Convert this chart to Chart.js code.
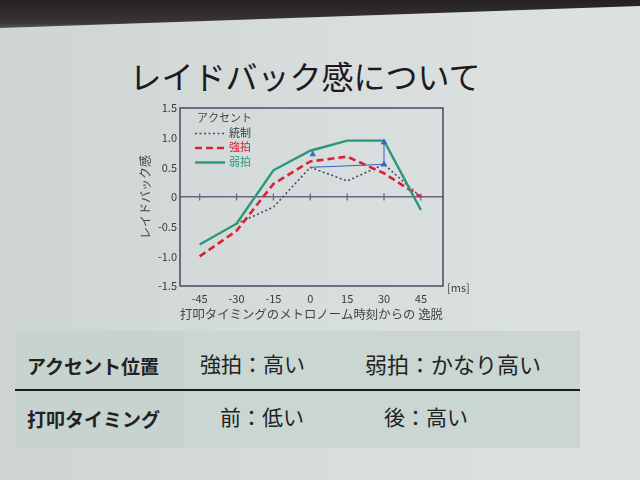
<!DOCTYPE html>
<html>
<head>
<meta charset="utf-8">
<script src="https://cdn.jsdelivr.net/npm/chart.js@4.4.0/dist/chart.umd.min.js"></script>
<style>
html, body { margin: 0; padding: 0; }
body {
    width: 640px; height: 480px; overflow: hidden; position: relative;
    background: linear-gradient(90deg, #cdd4d3 0%, #d8dedd 55%, #dde2e1 100%);
    font-family: "Noto Sans CJK JP", sans-serif; color: #222;
}
#top {
    position: absolute; left: 0; top: 0; width: 640px; height: 32px;
    background: linear-gradient(180deg, #231f22 0%, #3a3538 70%, #6c6a6b 100%);
    clip-path: polygon(0 0, 100% 0, 100% 6px, 0 28px);
}
#title {
    position: absolute; left: 0; width: 610px; top: 52px;
    text-align: center; font-size: 32px; color: #1e1a1c;
}
#wrap { position: absolute; left: 120px; top: 95px; width: 360px; height: 240px; }
#table {
    position: absolute; left: 15px; top: 331px; width: 565px; height: 117px;
    background: #cad6d1;
}
#table .cell { position: absolute; font-size: 21px; color: #222; line-height: 26px; }
#table .head { font-weight: bold; font-size: 19px; }
#table .rule { position: absolute; left: 0; top: 58px; width: 565px; height: 2px; background: #1c1a1c; }
#table .col1 { position: absolute; left: 0; top: 0; width: 168px; height: 117px; background: #c7d3ce; }
</style>
</head>
<body>
<div id="top"></div>
<div id="title">レイドバック感について</div>
<div id="wrap"><canvas id="chart" width="360" height="240"></canvas></div>
<div id="table">
    <div class="col1"></div>
    <div class="cell head" style="left:12px; top:22px;">アクセント位置</div>
    <div class="cell" style="left:185px; top:19px;">強拍：高い</div>
    <div class="cell" style="left:350px; top:19px; font-size:22px;">弱拍：かなり高い</div>
    <div class="rule"></div>
    <div class="cell head" style="left:12px; top:75px;">打叩タイミング</div>
    <div class="cell" style="left:205px; top:72px;">前：低い</div>
    <div class="cell" style="left:369px; top:72px;">後：高い</div>
</div>
<script>
'use strict'

// timing offsets [ms]
const xTicks = [-45, -30, -15, 0, 15, 30, 45]
const yTicks = [-1.5, -1.0, -0.5, 0, 0.5, 1.0, 1.5]

// レイドバック感 per accent condition
const control = [null, -0.45, -0.17, 0.5, 0.27, 0.55, 0.0]   // 統制
const strong = [-1.0, -0.57, 0.22, 0.6, 0.68, 0.4, 0.0]       // 強拍
const weak = [-0.8, -0.45, 0.45, 0.78, 0.95, 0.95, -0.22]     // 弱拍

// blue annotation (difference marker)
const diffX = [0, 30, 30]
const diffY = [0.5, 0.55, 0.92]
const markX = [1]
const markY = [0.72]

const legendTitle = 'アクセント'
const labels = ['統制', '強拍', '弱拍']

const toPoints = (xs, ys) => xs.map((x, i) => ({x: x, y: ys[i]}))

const font = '"Noto Sans CJK JP", sans-serif'

const frame = {
    id: 'frame',
    afterDatasetsDraw(chart) {
        const {ctx, chartArea} = chart
        ctx.save()
        ctx.strokeStyle = '#4d4563'
        ctx.lineWidth = 1.5
        ctx.strokeRect(chartArea.left, chartArea.top, chartArea.right - chartArea.left, chartArea.bottom - chartArea.top)

        ctx.fillStyle = '#444'
        ctx.font = '11px ' + font
        ctx.textBaseline = 'middle'
        ctx.fillText('[ms]', chartArea.right + 4, chartArea.bottom + 2)

        // legend in the top-left of the plot
        const lx = chartArea.left + 16
        let ly = chartArea.top + 10
        ctx.fillStyle = '#454545'
        ctx.fillText(legendTitle, lx + 1, ly)
        const textColors = ['#3b3b45', '#d8203a', '#2f9a7c']
        for (let i = 0; i < 3; i++) {
            ly += 14.5
            const ds = chart.data.datasets[i]
            ctx.save()
            ctx.strokeStyle = ds.borderColor
            ctx.lineWidth = ds.borderWidth
            ctx.setLineDash(ds.borderDash || [])
            ctx.beginPath()
            ctx.moveTo(lx - 1, ly + 1)
            ctx.lineTo(lx + 29, ly + 1)
            ctx.stroke()
            ctx.restore()
            ctx.fillStyle = textColors[i]
            ctx.fillText(labels[i], lx + 33, ly)
        }
        ctx.restore()
    }
}

new Chart(document.getElementById('chart'), {
    type: 'line',
    data: {
        datasets: [
            {
                label: labels[0], data: toPoints(xTicks, control),
                borderColor: '#4a4a5c', borderWidth: 1.6, borderDash: [2, 2.5],
                pointRadius: 0, order: 3
            },
            {
                label: labels[1], data: toPoints(xTicks, strong),
                borderColor: '#dc2038', borderWidth: 2.6, borderDash: [7, 4],
                pointRadius: 0, order: 2
            },
            {
                label: labels[2], data: toPoints(xTicks, weak),
                borderColor: '#2a9878', borderWidth: 2.4,
                pointRadius: 0, order: 1
            },
            {
                label: 'diff', data: toPoints(diffX, diffY),
                borderColor: '#3a5cc8', borderWidth: 1, backgroundColor: '#3a6ad8',
                pointStyle: 'triangle', pointRadius: [0, 3, 3], order: 0
            },
            {
                label: 'mark', data: toPoints(markX, markY), showLine: false,
                borderColor: '#3a6ad8', backgroundColor: '#3a6ad8',
                pointStyle: 'triangle', pointRadius: 3, order: 0
            },
            {
                label: 'zero', data: xTicks.map(x => ({x: x, y: 0})), showLine: false,
                borderColor: '#6c6384', pointBorderColor: '#6c6384', pointBorderWidth: 1.3,
                pointStyle: 'line', rotation: 90, pointRadius: 3.5, order: 5
            }
        ]
    },
    options: {
        responsive: false,
        animation: false,
        devicePixelRatio: 1,
        layout: { padding: { top: 13, right: 37, left: 0, bottom: 0 } },
        plugins: { legend: { display: false }, tooltip: { enabled: false } },
        scales: {
            x: {
                type: 'linear', min: -53, max: 54,
                afterBuildTicks: axis => { axis.ticks = xTicks.map(v => ({value: v})) },
                afterFit: scale => { scale.height = 49 },
                grid: { display: false, drawTicks: false },
                border: { display: false },
                ticks: { color: '#3a3a3a', font: { size: 11, family: font }, padding: 6, maxRotation: 0 },
                title: {
                    display: true, text: '打叩タイミングのメトロノーム時刻からの 逸脱',
                    color: '#444', font: { size: 12.5, family: font }, padding: { top: 0, bottom: 13 }
                }
            },
            y: {
                min: -1.5, max: 1.5,
                afterBuildTicks: axis => { axis.ticks = yTicks.map(v => ({value: v})) },
                afterFit: scale => { scale.width = 60 },
                grid: {
                    drawTicks: false,
                    color: c => c.tick && c.tick.value === 0 ? '#6c6384' : 'rgba(0,0,0,0)',
                    lineWidth: 1.4
                },
                border: { display: false },
                ticks: {
                    color: '#3a3a3a', font: { size: 11, family: font }, padding: 3,
                    callback: v => v === 0 ? '0' : v.toFixed(1)
                },
                title: {
                    display: true, text: 'レイドバック感',
                    color: '#444', font: { size: 12, family: font }, padding: { top: 18, bottom: 0 }
                }
            }
        }
    },
    plugins: [frame]
})
</script>
</body>
</html>
